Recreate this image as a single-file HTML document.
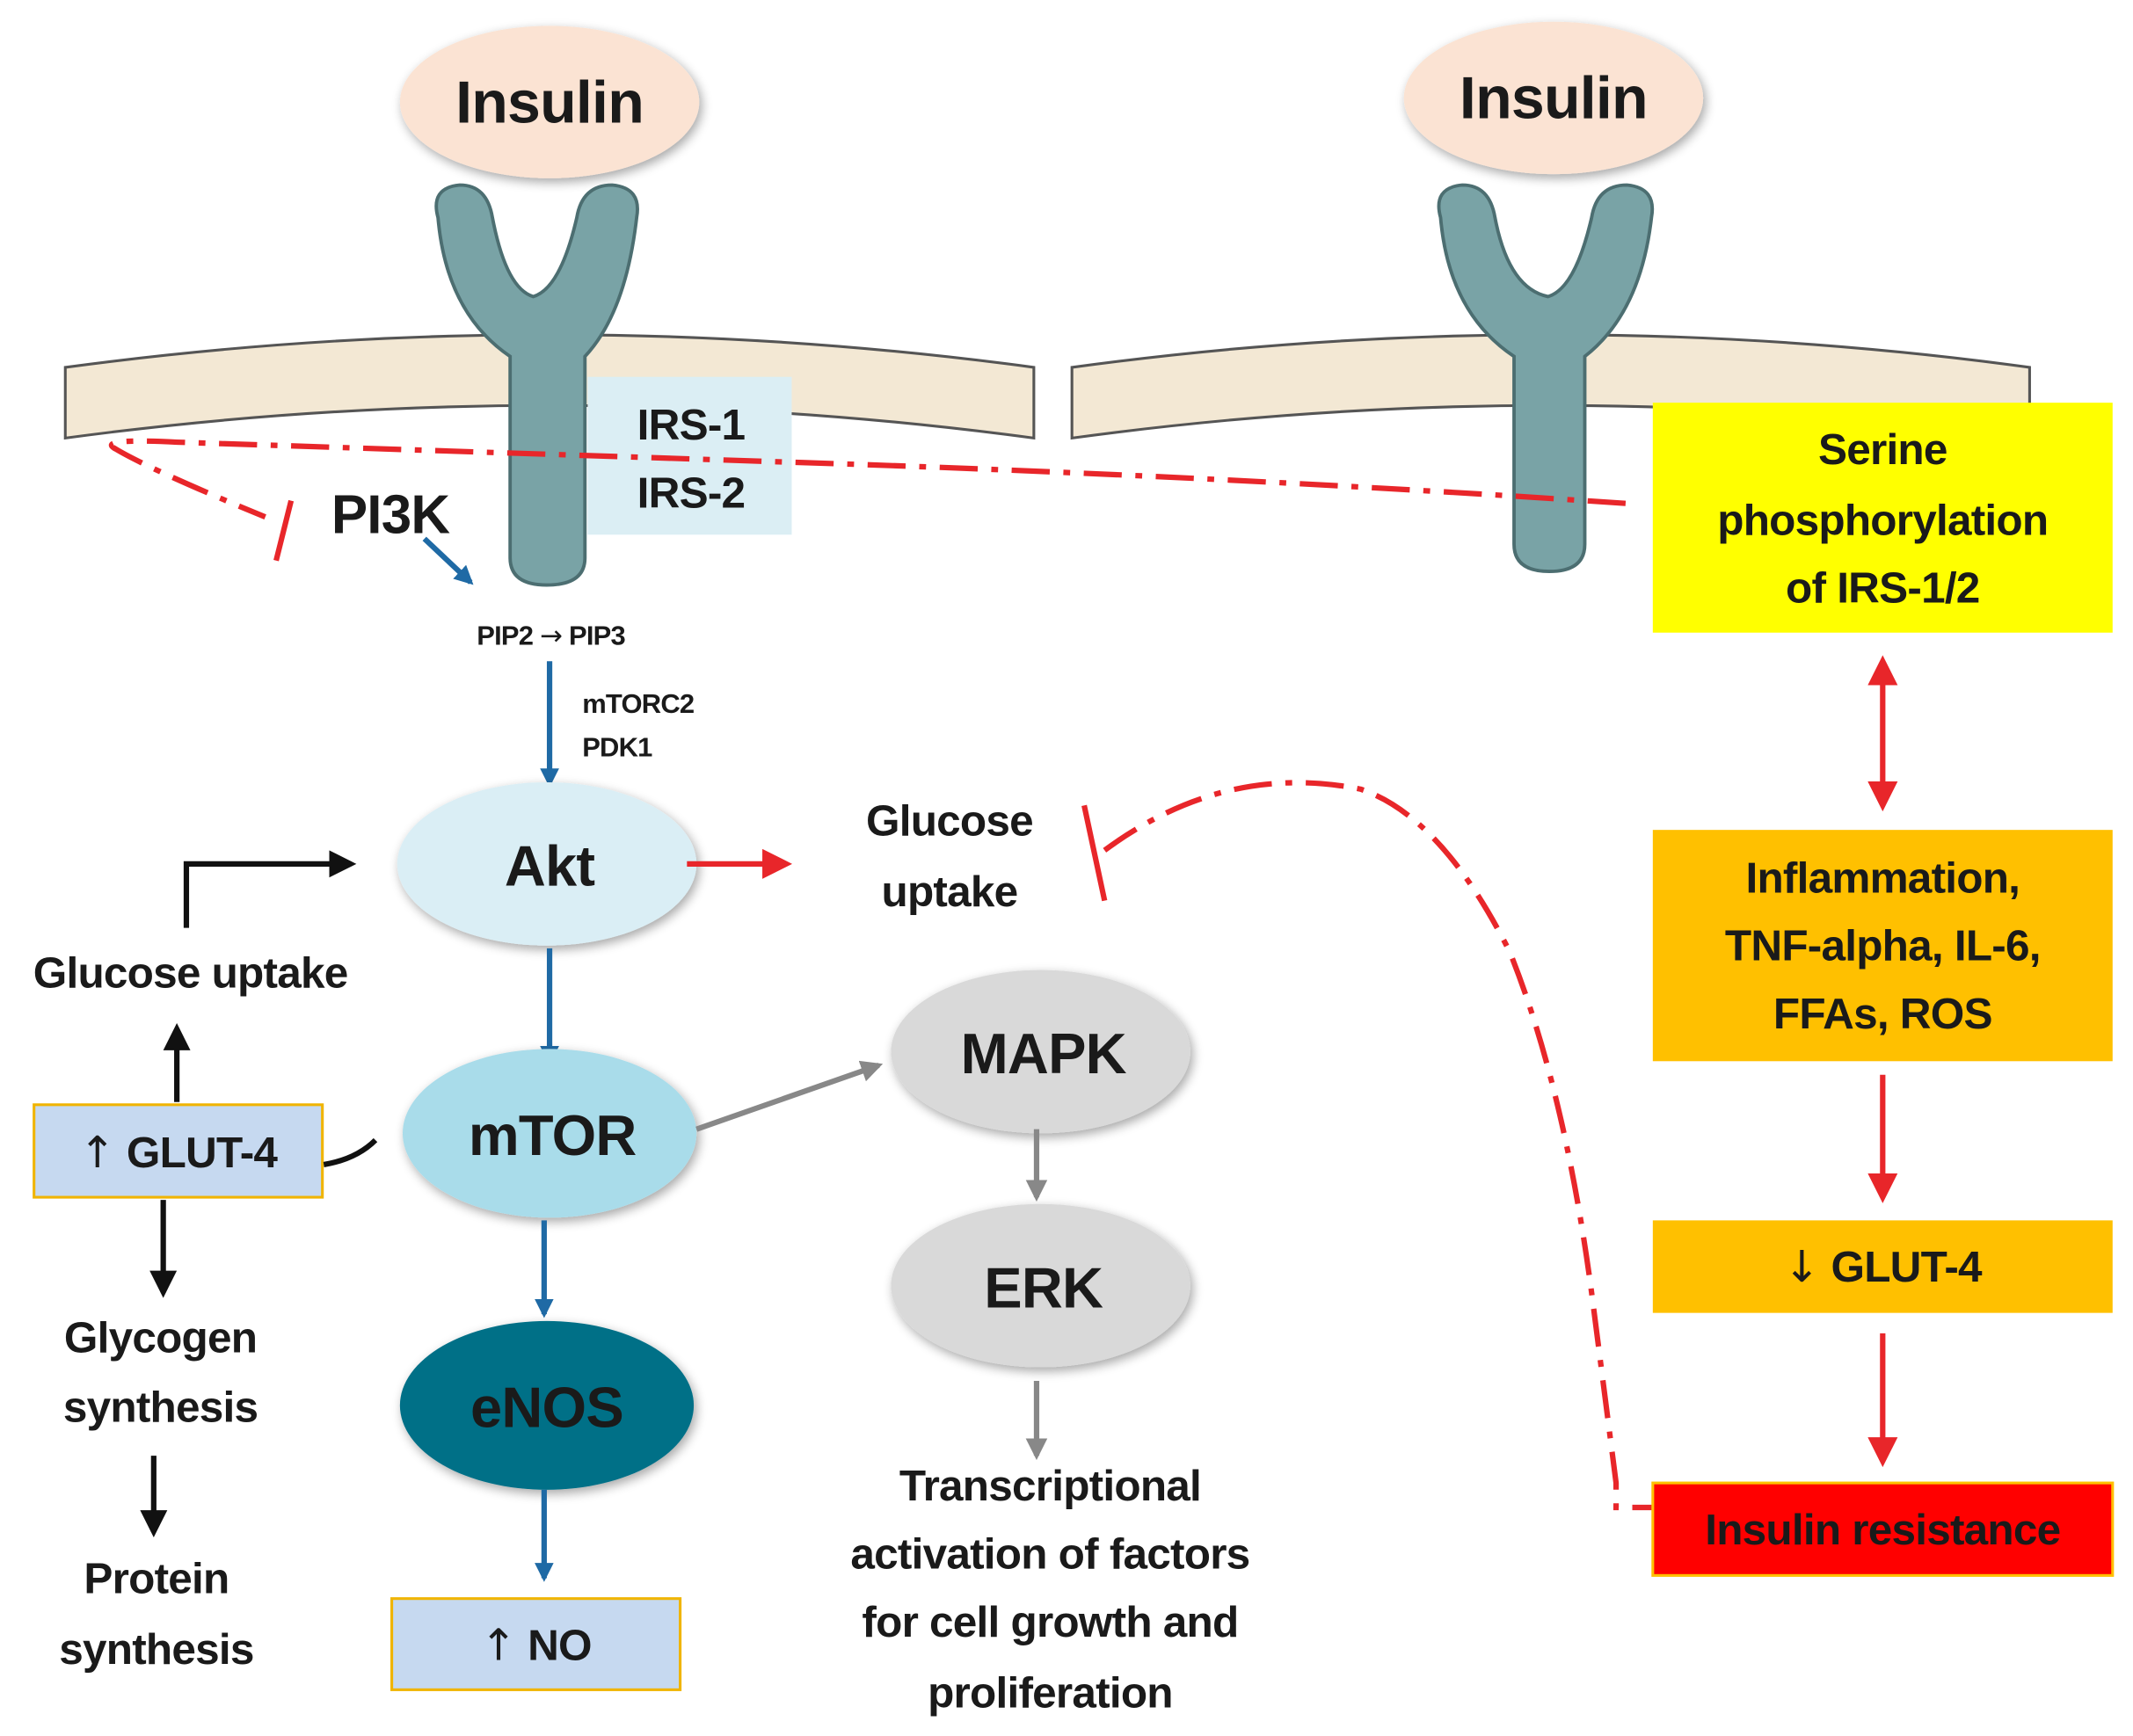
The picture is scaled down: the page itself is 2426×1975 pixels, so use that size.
<!DOCTYPE html>
<html><head><meta charset="utf-8"><style>
html,body{margin:0;padding:0;background:#fff;}
svg{display:block;}
text{font-family:"Liberation Sans",Arial,sans-serif;font-weight:bold;fill:#1a1a1a;text-anchor:middle;letter-spacing:-0.5px;}
.g{font-family:"DejaVu Sans",sans-serif;font-weight:normal;}
</style></head><body>
<svg width="2426" height="1975" viewBox="0 0 1568 1276" preserveAspectRatio="none" xmlns="http://www.w3.org/2000/svg">
<defs>
<marker id="ab" markerWidth="14" markerHeight="14" refX="8" refY="5" orient="auto" markerUnits="userSpaceOnUse" viewBox="0 0 10 10"><path d="M0,0 L10,5 L0,10 z" fill="#1f6aa5"/></marker>
<marker id="ar" markerWidth="22" markerHeight="22" refX="8" refY="5" orient="auto" markerUnits="userSpaceOnUse" viewBox="0 0 10 10"><path d="M0,0 L10,5 L0,10 z" fill="#e8262a"/></marker>
<marker id="ar0" markerWidth="22" markerHeight="22" refX="2" refY="5" orient="auto" markerUnits="userSpaceOnUse" viewBox="0 0 10 10"><path d="M10,0 L0,5 L10,10 z" fill="#e8262a"/></marker>
<marker id="ak" markerWidth="20" markerHeight="20" refX="8" refY="5" orient="auto" markerUnits="userSpaceOnUse" viewBox="0 0 10 10"><path d="M0,0 L10,5 L0,10 z" fill="#111"/></marker>
<marker id="ag" markerWidth="16" markerHeight="16" refX="8" refY="5" orient="auto" markerUnits="userSpaceOnUse" viewBox="0 0 10 10"><path d="M0,0 L10,5 L0,10 z" fill="#888"/></marker>
<filter id="sh" x="-20%" y="-20%" width="140%" height="140%"><feGaussianBlur in="SourceAlpha" stdDeviation="4"/><feOffset dx="2" dy="3"/><feComponentTransfer><feFuncA type="linear" slope="0.35"/></feComponentTransfer><feMerge><feMergeNode/><feMergeNode in="SourceGraphic"/></feMerge></filter>
</defs>

<path d="M48,270 Q404,222 760,270 L760,322 Q404,274 48,322 Z" fill="#f3e8d4" stroke="#555" stroke-width="2"/>
<path d="M788,270 Q1140,222 1492,270 L1492,322 Q1140,274 788,322 Z" fill="#f3e8d4" stroke="#555" stroke-width="2"/>

<ellipse cx="404" cy="75" rx="110" ry="56" fill="#fbe3d3" filter="url(#sh)"/>
<text x="404" y="90" font-size="44">Insulin</text>
<ellipse cx="1142" cy="72" rx="110" ry="56" fill="#fbe3d3" filter="url(#sh)"/>
<text x="1142" y="87" font-size="44">Insulin</text>

<path d="M322,160 Q316,138 338,136 Q358,136 362,160 Q372,212 392,218 Q412,212 424,160 Q428,136 450,136 Q472,138 468,160 Q460,230 430,262 L430,410 Q430,430 402,430 Q375,430 375,410 L375,262 Q328,230 322,160 Z" fill="#79a3a6" stroke="#4c6e71" stroke-width="2.5"/>
<path d="M1059,160 Q1053,138 1075,136 Q1095,136 1099,160 Q1109,212 1138,218 Q1158,212 1170,160 Q1174,136 1196,136 Q1218,138 1214,160 Q1206,230 1165,262 L1165,400 Q1165,420 1139,420 Q1113,420 1113,400 L1113,262 Q1065,230 1059,160 Z" fill="#79a3a6" stroke="#4c6e71" stroke-width="2.5"/>

<rect x="432" y="277" width="150" height="116" fill="#dbeef4"/>
<text x="508" y="323" font-size="32">IRS-1</text>
<text x="508" y="373" font-size="32">IRS-2</text>

<path d="M1195,370 Q900,350 590,340 L130,325 Q70,322 85,330 Q110,345 195,380" fill="none" stroke="#e8262a" stroke-width="4" stroke-dasharray="28,10,5,10"/>
<line x1="214" y1="368" x2="203" y2="412" stroke="#e8262a" stroke-width="4"/>

<text x="287" y="392" font-size="40">PI3K</text>
<line x1="312" y1="396" x2="346" y2="428" stroke="#1f6aa5" stroke-width="4" marker-end="url(#ab)"/>
<text x="405" y="474" font-size="20">PIP2 <tspan class="g">→</tspan> PIP3</text>
<line x1="404" y1="486" x2="404" y2="576" stroke="#1f6aa5" stroke-width="4" marker-end="url(#ab)"/>
<text x="428" y="524" font-size="20" style="text-anchor:start">mTORC2</text>
<text x="428" y="556" font-size="20" style="text-anchor:start">PDK1</text>

<ellipse cx="402" cy="635" rx="110" ry="60" fill="#daeef5" filter="url(#sh)"/>
<text x="404" y="651" font-size="42">Akt</text>
<line x1="505" y1="635" x2="578" y2="635" stroke="#e8262a" stroke-width="4" marker-end="url(#ar)"/>
<text x="698" y="614" font-size="32">Glucose</text>
<text x="698" y="666" font-size="32">uptake</text>
<line x1="797" y1="592" x2="812" y2="662" stroke="#e8262a" stroke-width="4"/>
<path d="M812,625 Q900,560 1000,580 Q1060,600 1110,700 Q1150,800 1170,950 L1188,1090 L1188,1108 L1215,1108" fill="none" stroke="#e8262a" stroke-width="4" stroke-dasharray="28,10,5,10"/>

<path d="M137,682 L137,635 L258,635" fill="none" stroke="#111" stroke-width="4" marker-end="url(#ak)"/>
<text x="140" y="726" font-size="32">Glucose uptake</text>
<line x1="130" y1="810" x2="130" y2="756" stroke="#111" stroke-width="4" marker-end="url(#ak)"/>
<rect x="25" y="812" width="212" height="68" fill="#c6d9f0" stroke="#f0b400" stroke-width="2"/>
<text x="131" y="858" font-size="32"><tspan class="g">↑</tspan> GLUT-4</text>
<path d="M238,856 Q262,852 276,838" fill="none" stroke="#111" stroke-width="4"/>
<line x1="120" y1="882" x2="120" y2="950" stroke="#111" stroke-width="4" marker-end="url(#ak)"/>
<text x="118" y="994" font-size="32">Glycogen</text>
<text x="118" y="1045" font-size="32">synthesis</text>
<line x1="113" y1="1070" x2="113" y2="1126" stroke="#111" stroke-width="4" marker-end="url(#ak)"/>
<text x="115" y="1171" font-size="32">Protein</text>
<text x="115" y="1223" font-size="32">synthesis</text>

<line x1="404" y1="697" x2="404" y2="780" stroke="#1f6aa5" stroke-width="4" marker-end="url(#ab)"/>
<ellipse cx="404" cy="833" rx="108" ry="62" fill="#a9dcea" filter="url(#sh)"/>
<text x="406" y="849" font-size="42">mTOR</text>
<line x1="512" y1="830" x2="646" y2="783" stroke="#888" stroke-width="4" marker-end="url(#ag)"/>

<ellipse cx="765" cy="773" rx="110" ry="60" fill="#d9d9d9" filter="url(#sh)"/>
<text x="767" y="789" font-size="42">MAPK</text>
<line x1="762" y1="830" x2="762" y2="880" stroke="#888" stroke-width="4" marker-end="url(#ag)"/>
<ellipse cx="765" cy="945" rx="110" ry="60" fill="#d9d9d9" filter="url(#sh)"/>
<text x="767" y="961" font-size="42">ERK</text>
<line x1="762" y1="1015" x2="762" y2="1070" stroke="#888" stroke-width="4" marker-end="url(#ag)"/>
<text x="772" y="1103" font-size="32">Transcriptional</text>
<text x="772" y="1153" font-size="32">activation of factors</text>
<text x="772" y="1203" font-size="32">for cell growth and</text>
<text x="772" y="1255" font-size="32">proliferation</text>

<line x1="400" y1="897" x2="400" y2="966" stroke="#1f6aa5" stroke-width="4" marker-end="url(#ab)"/>
<ellipse cx="402" cy="1033" rx="108" ry="62" fill="#006f87" filter="url(#sh)"/>
<text x="402" y="1049" font-size="42">eNOS</text>
<line x1="400" y1="1095" x2="400" y2="1160" stroke="#1f6aa5" stroke-width="4" marker-end="url(#ab)"/>
<rect x="288" y="1175" width="212" height="67" fill="#c6d9f0" stroke="#f0b400" stroke-width="2"/>
<text x="394" y="1220" font-size="32"><tspan class="g">↑</tspan> NO</text>

<rect x="1215" y="296" width="338" height="169" fill="#ffff00"/>
<text x="1384" y="341" font-size="32">Serine</text>
<text x="1384" y="393" font-size="32">phosphorylation</text>
<text x="1384" y="443" font-size="32">of IRS-1/2</text>
<line x1="1384" y1="486" x2="1384" y2="592" stroke="#e8262a" stroke-width="4" marker-start="url(#ar0)" marker-end="url(#ar)"/>
<rect x="1215" y="610" width="338" height="170" fill="#ffc000"/>
<text x="1384" y="656" font-size="32">Inflammation,</text>
<text x="1384" y="706" font-size="32">TNF-alpha, IL-6,</text>
<text x="1384" y="756" font-size="32">FFAs, ROS</text>
<line x1="1384" y1="790" x2="1384" y2="880" stroke="#e8262a" stroke-width="4" marker-end="url(#ar)"/>
<rect x="1215" y="897" width="338" height="68" fill="#ffc000"/>
<text x="1384" y="942" font-size="32"><tspan class="g">↓</tspan> GLUT-4</text>
<line x1="1384" y1="980" x2="1384" y2="1074" stroke="#e8262a" stroke-width="4" marker-end="url(#ar)"/>
<rect x="1215" y="1090" width="338" height="68" fill="#ff0000" stroke="#ffc000" stroke-width="2"/>
<text x="1384" y="1135" font-size="32">Insulin resistance</text>
</svg>
</body></html>
